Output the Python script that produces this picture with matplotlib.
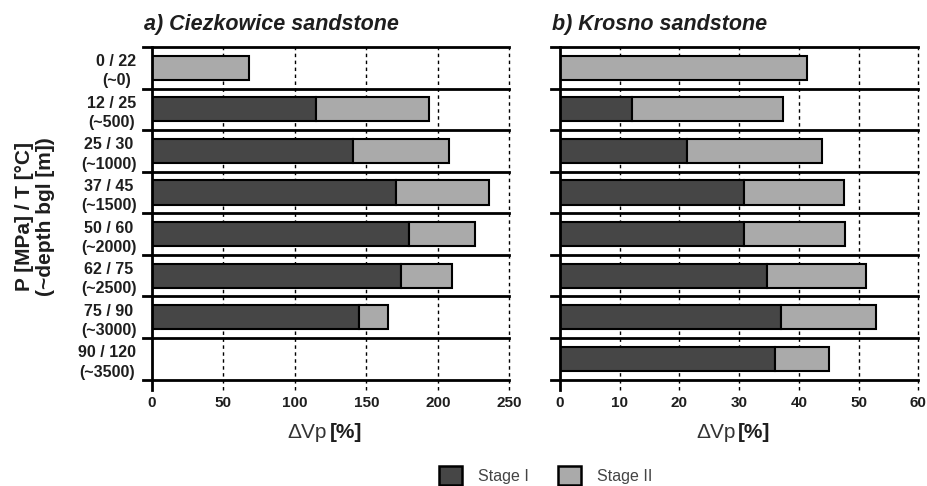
import matplotlib.pyplot as plt
from matplotlib.patches import Patch

plt.rcParams['font.family'] = ['Liberation Sans', 'DejaVu Sans']

# P/T conditions with approximate depth, top row first
conditions = ['0 / 22\n(~0)', '12 / 25\n(~500)', '25 / 30\n(~1000)', '37 / 45\n(~1500)',
              '50 / 60\n(~2000)', '62 / 75\n(~2500)', '75 / 90\n(~3000)', '90 / 120\n(~3500)']

# Ciezkowice sandstone, dVp [%]
ciez_stage1 = [0, 115, 141, 171, 180, 174, 145, 0]
ciez_total = [68, 194, 208, 236, 226, 210, 165, 0]

# Krosno sandstone, dVp [%]
kros_stage1 = [0, 12, 21.2, 30.8, 30.8, 34.7, 37, 36]
kros_total = [41.4, 37.3, 43.9, 47.6, 47.7, 51.3, 53, 45]

c_stage1 = '#464646'
c_stage2 = '#aaaaaa'
c_text = '#1e1e1e'

fig = plt.figure(figsize=(9.28, 4.86), dpi=100)
ax1 = fig.add_axes([0.1635, 0.1975, 0.3853, 0.7058])
ax2 = fig.add_axes([0.6034, 0.1975, 0.3861, 0.7058])


def draw_panel(ax, stage1, total, xmax, step, title):
    n = len(stage1)
    ypos = [n - 0.5 - i for i in range(n)]
    stage2 = [t - s for s, t in zip(stage1, total)]
    ax.barh(ypos, stage1, height=0.58, color=c_stage1, edgecolor='black', lw=1.5, zorder=3)
    ax.barh(ypos, stage2, left=stage1, height=0.58, color=c_stage2,
            edgecolor='black', lw=1.5, zorder=3)
    for y in range(n + 1):
        ax.axhline(y, xmin=-0.025, xmax=1, color='black', lw=2, clip_on=False, zorder=4)
    ax.set_xlim(0, xmax)
    ax.set_ylim(-0.25, n)
    ticks = list(range(0, xmax + 1, step))
    ax.set_xticks(ticks)
    ax.set_xticklabels([str(t) for t in ticks], fontweight='bold', fontsize=11, color=c_text)
    for t in ticks[1:]:
        ax.axvline(t, color='black', lw=1, ls=(0, (2.5, 2.5)), clip_on=False, zorder=1)
    ax.tick_params(axis='x', length=0, pad=4)
    ax.set_yticks(ypos)
    for side in ['top', 'right', 'bottom']:
        ax.spines[side].set_visible(False)
    ax.spines['left'].set_linewidth(2)
    ax.spines['left'].set_zorder(5)
    ax.text(-0.022, 1.035, title, transform=ax.transAxes, fontsize=15.5, color=c_text,
            fontweight='bold', fontstyle='italic', ha='left', va='bottom')
    ax.text(0.49, -0.125, '\u0394Vp', transform=ax.transAxes, fontsize=15,
            ha='right', va='center', color='#333333')
    ax.text(0.497, -0.125, '[%]', transform=ax.transAxes, fontsize=15,
            fontweight='bold', ha='left', va='center', color=c_text)


draw_panel(ax1, ciez_stage1, ciez_total, 250, 50, 'a) Ciezkowice sandstone')
draw_panel(ax2, kros_stage1, kros_total, 60, 10, 'b) Krosno sandstone')

ax1.set_yticklabels(conditions, fontweight='bold', fontsize=11.5, linespacing=1.35,
                    multialignment='center', color=c_text)
ax1.tick_params(axis='y', length=0, pad=11)
ax2.set_yticklabels([])
ax2.tick_params(axis='y', length=0)

fig.text(0.038, 0.555, 'P [MPa] / T [\u00b0C]\n(~depth bgl [m])', rotation=90,
         fontsize=15, fontweight='bold', ha='center', va='center', linespacing=1.15,
         color=c_text)

handles = [Patch(facecolor=c_stage1, edgecolor='black', lw=1.8, label='Stage I'),
           Patch(facecolor=c_stage2, edgecolor='black', lw=1.8, label='Stage II')]
leg = fig.legend(handles=handles, loc='center', bbox_to_anchor=(0.588, 0.022), ncol=2,
                 frameon=False, fontsize=11.5, handlelength=1.4, handleheight=1.4,
                 columnspacing=1.85, handletextpad=1.0)
for t in leg.get_texts():
    t.set_color('#444444')

fig.savefig('out.png', dpi=100)
